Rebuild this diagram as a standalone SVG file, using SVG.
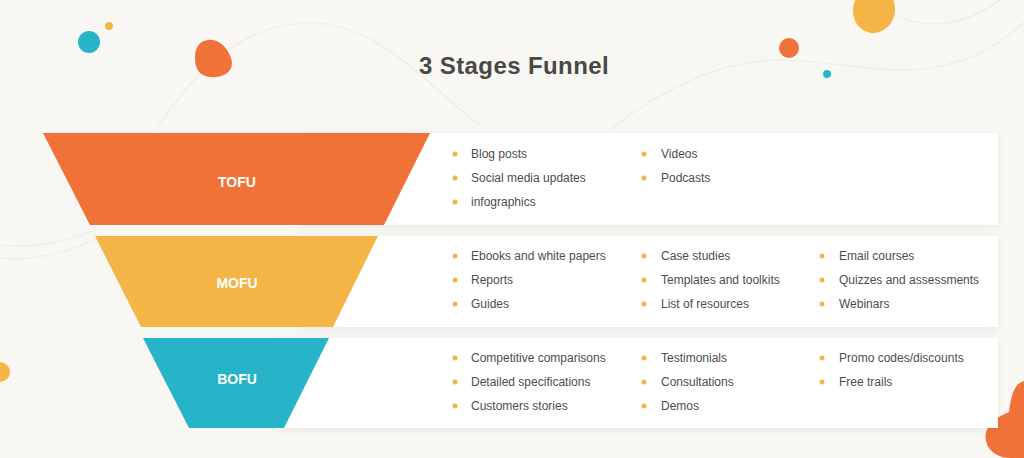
<svg xmlns="http://www.w3.org/2000/svg" width="1024" height="458" viewBox="0 0 1024 458">
<defs>
<style>
.bg-line{fill:none;stroke:#eeebe6;stroke-width:1.2}
.card{fill:#ffffff}
.stage{font-family:"Liberation Sans",Arial,sans-serif;font-weight:bold;font-size:14px;fill:#ffffff;text-anchor:middle}
.item{font-family:"Liberation Sans",Arial,sans-serif;font-size:12px;fill:#4d4d4d}
.dot{fill:#f2b54a}
.title{font-family:"Liberation Sans",Arial,sans-serif;font-weight:bold;font-size:24px;letter-spacing:0.4px;fill:#4a4845;text-anchor:middle}
</style>
<filter id="sh" x="-5%" y="-20%" width="110%" height="150%">
<feDropShadow dx="0" dy="2" stdDeviation="4" flood-color="#000" flood-opacity="0.06"/>
</filter>
</defs>
<rect width="1024" height="458" fill="#f9f7f3"/>
<g id="background">
<path class="bg-line" d="M155,130 C190,80 230,30 300,23 C380,18 430,90 480,125"/>
<path class="bg-line" d="M610,130 C660,90 720,60 780,60 C830,60 880,75 930,68 C980,60 1005,40 1024,22"/>
<path class="bg-line" d="M893,14 C920,28 960,30 1000,0"/>
<path class="bg-line" d="M0,245 C30,250 70,240 95,230"/>
<path class="bg-line" d="M0,258 C35,262 75,250 98,238"/>
<circle cx="89" cy="42" r="11" fill="#27b4c9"/>
<circle cx="109" cy="26" r="4" fill="#f5b546"/>
<path d="M208,40 C222,38 232,55 232,63 C232,73 222,78 210,77 C199,76 195,68 195,58 C195,48 199,41 208,40 Z" fill="#f07238"/>
<ellipse cx="874" cy="10" rx="21" ry="23" transform="rotate(10 874 10)" fill="#f5b546"/>
<circle cx="789" cy="48" r="10" fill="#f07238"/>
<circle cx="827" cy="74" r="4" fill="#27b4c9"/>
<circle cx="0" cy="372" r="10" fill="#f5b546"/>
<path d="M1024,381 C1013,384 1011,398 1009,412 C996,417 983,427 986,441 C988,452 1000,458 1010,458 L1024,458 Z" fill="#f07238"/>
</g>
<text class="title" x="514" y="74">3 Stages Funnel</text>
<g id="connectors"></g>
<g id="tofu">
<rect class="card" x="300" y="133" width="698" height="92" filter="url(#sh)"/>
<polygon points="43,133 430,133 384,225 90,225" fill="#f07238"/>
<text class="stage" x="237" y="187">TOFU</text>
<circle class="dot" cx="455" cy="154" r="2.5"/><text class="item" x="471" y="158">Blog posts</text>
<circle class="dot" cx="455" cy="178" r="2.5"/><text class="item" x="471" y="182">Social media updates</text>
<circle class="dot" cx="455" cy="202" r="2.5"/><text class="item" x="471" y="206">infographics</text>
<circle class="dot" cx="644" cy="154" r="2.5"/><text class="item" x="661" y="158">Videos</text>
<circle class="dot" cx="644" cy="178" r="2.5"/><text class="item" x="661" y="182">Podcasts</text>
</g>
<g id="mofu">
<rect class="card" x="300" y="236" width="698" height="91" filter="url(#sh)"/>
<polygon points="95,236 378,236 333,327 141,327" fill="#f5b546"/>
<text class="stage" x="237" y="288">MOFU</text>
<circle class="dot" cx="455" cy="256" r="2.5"/><text class="item" x="471" y="260">Ebooks and white papers</text>
<circle class="dot" cx="455" cy="280" r="2.5"/><text class="item" x="471" y="284">Reports</text>
<circle class="dot" cx="455" cy="304" r="2.5"/><text class="item" x="471" y="308">Guides</text>
<circle class="dot" cx="644" cy="256" r="2.5"/><text class="item" x="661" y="260">Case studies</text>
<circle class="dot" cx="644" cy="280" r="2.5"/><text class="item" x="661" y="284">Templates and toolkits</text>
<circle class="dot" cx="644" cy="304" r="2.5"/><text class="item" x="661" y="308">List of resources</text>
<circle class="dot" cx="822" cy="256" r="2.5"/><text class="item" x="839" y="260">Email courses</text>
<circle class="dot" cx="822" cy="280" r="2.5"/><text class="item" x="839" y="284">Quizzes and assessments</text>
<circle class="dot" cx="822" cy="304" r="2.5"/><text class="item" x="839" y="308">Webinars</text>
</g>
<g id="bofu">
<rect class="card" x="280" y="338" width="718" height="90" filter="url(#sh)"/>
<polygon points="143,338 329,338 284,428 189,428" fill="#27b4c9"/>
<text class="stage" x="237" y="384">BOFU</text>
<circle class="dot" cx="455" cy="358" r="2.5"/><text class="item" x="471" y="362">Competitive comparisons</text>
<circle class="dot" cx="455" cy="382" r="2.5"/><text class="item" x="471" y="386">Detailed specifications</text>
<circle class="dot" cx="455" cy="406" r="2.5"/><text class="item" x="471" y="410">Customers stories</text>
<circle class="dot" cx="644" cy="358" r="2.5"/><text class="item" x="661" y="362">Testimonials</text>
<circle class="dot" cx="644" cy="382" r="2.5"/><text class="item" x="661" y="386">Consultations</text>
<circle class="dot" cx="644" cy="406" r="2.5"/><text class="item" x="661" y="410">Demos</text>
<circle class="dot" cx="822" cy="358" r="2.5"/><text class="item" x="839" y="362">Promo codes/discounts</text>
<circle class="dot" cx="822" cy="382" r="2.5"/><text class="item" x="839" y="386">Free trails</text>
</g>
</svg>
